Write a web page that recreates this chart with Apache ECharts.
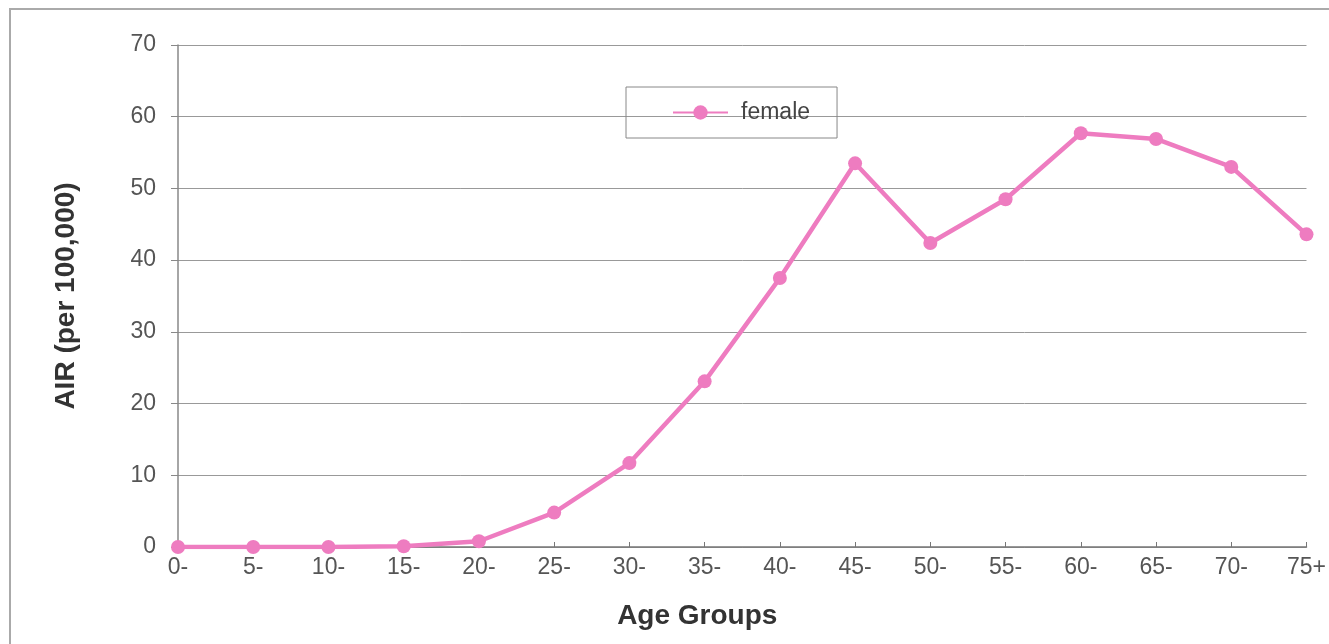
<!DOCTYPE html>
<html>
<head>
<meta charset="utf-8">
<script src="https://cdn.jsdelivr.net/npm/echarts@6/dist/echarts.min.js"></script>
<style>
html,body{margin:0;padding:0;background:#fff;}
#c{width:1329px;height:644px;}
</style>
</head>
<body>
<div id="c"></div>
<script>
const categories = ['0-','5-','10-','15-','20-','25-','30-','35-','40-','45-','50-','55-','60-','65-','70-','75+'];
const femaleValues = [0, 0, 0, 0.1, 0.8, 4.8, 11.7, 23.1, 37.5, 53.5, 42.4, 48.5, 57.7, 56.9, 53.0, 43.6];
const yTicks = [0, 10, 20, 30, 40, 50, 60, 70];
const seriesName = 'female';
const xTitle = 'Age Groups';
const yTitle = 'AIR (per 100,000)';

const FONT = 'Liberation Sans, Arial, sans-serif';
const chart = echarts.init(document.getElementById('c'));
chart.setOption({
  backgroundColor: '#fff',
  animation: false,
  graphic: [{
    type: 'rect',
    shape: {x: 10, y: 9, width: 1340, height: 660},
    style: {fill: 'none', stroke: '#aaa', lineWidth: 2}
  }],
  grid: {left: 178, right: 22, top: 45, bottom: 97},
  legend: {
    data: [seriesName],
    left: 626, top: 87,
    padding: [14, 27, 14, 46],
    borderColor: '#888', borderWidth: 1,
    itemWidth: 55, itemHeight: 18,
    textStyle: {fontFamily: FONT, fontSize: 23, color: '#444', padding: [0, 0, 2, 8]}
  },
  xAxis: {
    type: 'category',
    data: categories,
    boundaryGap: false,
    name: xTitle,
    nameLocation: 'middle',
    nameGap: 55,
    nameTextStyle: {fontFamily: FONT, fontSize: 28, fontWeight: 'bold', color: '#333', padding: [0, 90, 0, 0]},
    axisLine: {lineStyle: {color: '#777', width: 1.5}},
    axisTick: {inside: true, length: 5, lineStyle: {color: '#777'}},
    axisLabel: {fontFamily: FONT, fontSize: 23, color: '#555', margin: 9},
    splitLine: {show: false}
  },
  yAxis: {
    type: 'value',
    min: yTicks[0], max: yTicks[yTicks.length - 1], interval: 10,
    name: yTitle,
    nameLocation: 'middle',
    nameGap: 98,
    nameRotate: 90,
    nameTextStyle: {fontFamily: FONT, fontSize: 28, fontWeight: 'bold', color: '#333'},
    axisLine: {show: true, lineStyle: {color: '#888', width: 1.5}},
    axisTick: {show: true, length: 7, lineStyle: {color: '#888'}},
    axisLabel: {fontFamily: FONT, fontSize: 23, color: '#555', margin: 22},
    splitLine: {lineStyle: {color: '#999', width: 1}}
  },
  series: [{
    name: seriesName,
    type: 'line',
    data: femaleValues,
    symbol: 'circle',
    symbolSize: 14,
    lineStyle: {color: '#ee7cc0', width: 4.5},
    itemStyle: {color: '#ee7cc0'}
  }]
});
</script>
</body>
</html>
